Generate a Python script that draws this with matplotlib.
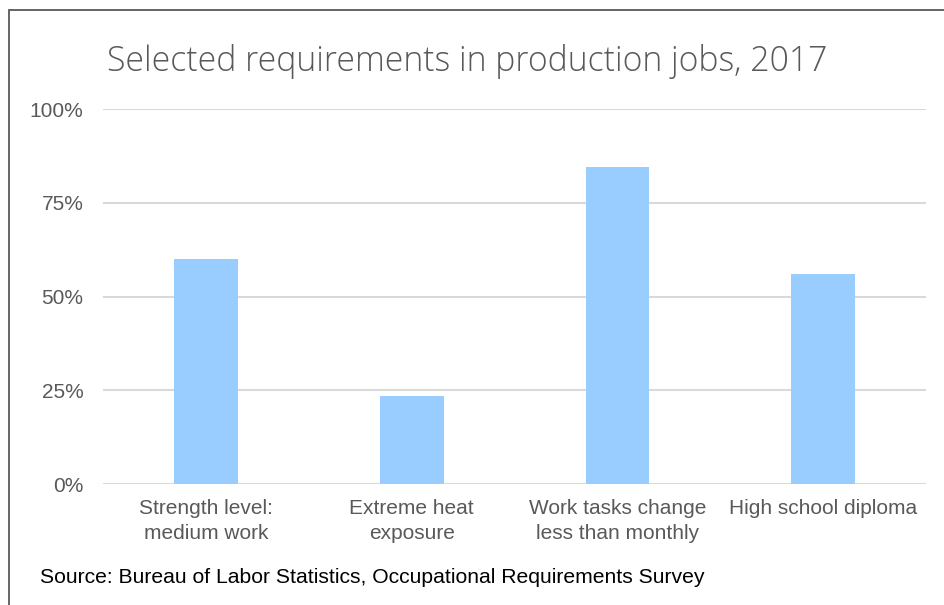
import matplotlib.pyplot as plt
from matplotlib.patches import Rectangle
from matplotlib.ticker import FuncFormatter

plt.rcParams['font.family'] = ['Liberation Sans', 'DejaVu Sans']

categories = ['Strength level:\nmedium work', 'Extreme heat\nexposure',
              'Work tasks change\nless than monthly', 'High school diploma']
values = [0.60, 0.235, 0.845, 0.56]
yticks = [0, 0.25, 0.5, 0.75, 1.0]

fig = plt.figure(figsize=(9.45, 6.05), dpi=100)
ax = fig.add_axes([0.109, 0.2, 0.871, 0.6198])

x = range(len(categories))
ax.bar(x, values, width=0.31, color='#99ccff', zorder=3)

ax.set_xlim(-0.5, len(categories) - 0.5)
ax.set_ylim(0, 1.0)
ax.set_yticks(yticks)
ax.yaxis.set_major_formatter(FuncFormatter(lambda v, p: f'{v * 100:.0f}%'))
ax.grid(axis='y', color='#d9d9d9', linewidth=1.5, zorder=0)
for s in ax.spines.values():
    s.set_visible(False)
ax.set_xticks(list(x))
ax.set_xticklabels(categories, linespacing=1.38)
ax.tick_params(axis='both', length=0, labelsize=15, labelcolor='#595959')
ax.tick_params(axis='y', pad=14)
ax.tick_params(axis='x', pad=11)

fig.text(0.494, 0.898, 'Selected requirements in production jobs, 2017',
         ha='center', va='center', fontsize=24.3, color='#595959',
         family=['Open Sans', 'DejaVu Sans'], fontweight='light')
fig.text(0.042, 0.045, 'Source: Bureau of Labor Statistics, Occupational Requirements Survey',
         ha='left', va='center', fontsize=15.2, color='black')

# outer frame like the original chart border
fig.patches.append(Rectangle((9 / 945, -0.1), 1.2, 1 - 10 / 605 + 0.1,
                             transform=fig.transFigure, fill=False,
                             edgecolor='#595959', linewidth=1.3))

fig.savefig('out.png', dpi=100)
